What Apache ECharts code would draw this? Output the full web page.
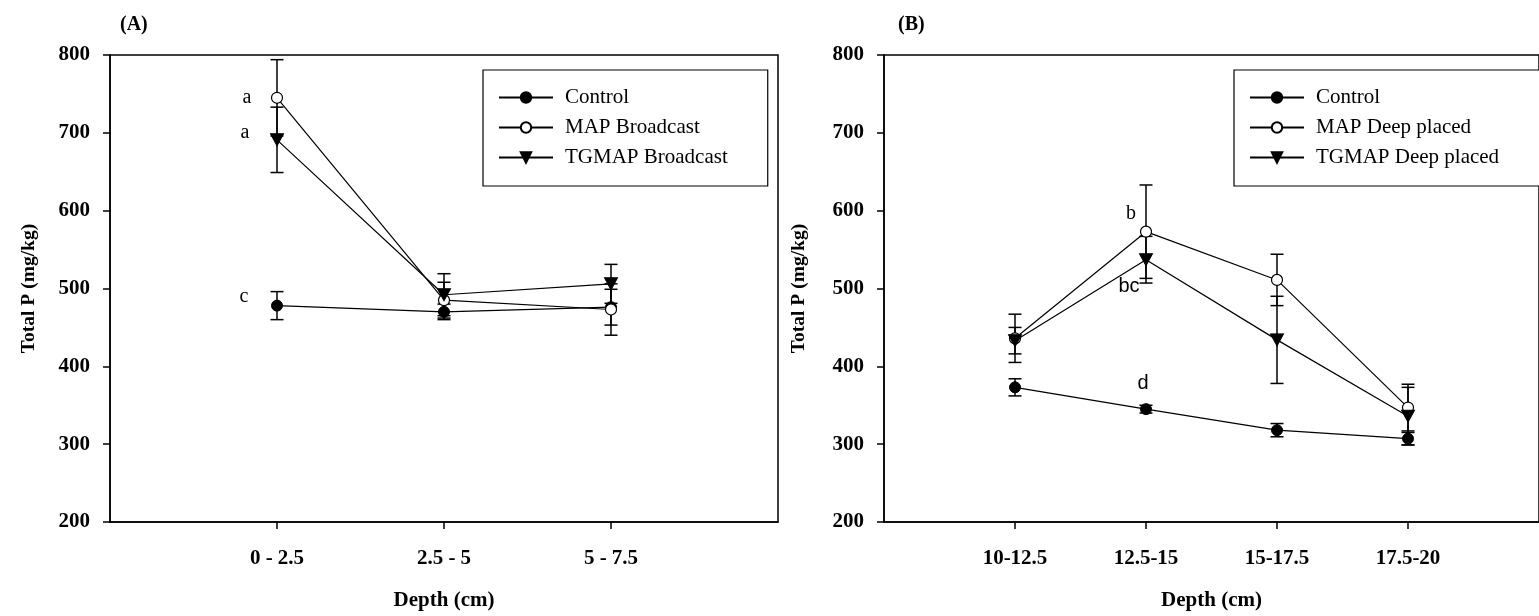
<!DOCTYPE html>
<html><head><meta charset="utf-8">
<script src="https://cdn.jsdelivr.net/npm/echarts@6/dist/echarts.min.js"></script>
<style>html,body{margin:0;padding:0;background:#fff}#c{width:1539px;height:616px}</style>
</head><body><div id="c"></div>
<script>
// ---- data ----
const catsA = ['0 - 2.5', '2.5 - 5', '5 - 7.5'];
const catsB = ['10-12.5', '12.5-15', '15-17.5', '17.5-20'];

const controlA = [478, 470, 476];
const controlAErr = [18, 10, 23];
const mapA = [745, 485, 473];
const mapAErr = [49, 23, 33];
const tgA = [691, 492, 506];
const tgAErr = [42, 27, 25];

const controlB = [373, 345, 318, 307];
const controlBErr = [11, 5, 8.5, 8];
const mapB = [436, 573, 511, 347];
const mapBErr = [31, 60, 33, 30];
const tgB = [433, 537, 434, 336];
const tgBErr = [17, 30, 56, 37];

const controlLettersA = ['c', '', ''];
const mapLettersA = ['a', '', ''];
const tgLettersA = ['a', '', ''];
const controlLettersB = ['', 'd', '', ''];
const mapLettersB = ['', 'b', '', ''];
const tgLettersB = ['', 'bc', '', ''];

const namesA = ['Control', 'MAP Broadcast', 'TGMAP Broadcast'];
const namesB = ['Control', 'MAP Deep placed', 'TGMAP Deep placed'];

// ---- styles ----
const SERIF = "'Liberation Serif','Times New Roman',serif";
const SANS = "'Liberation Sans',Arial,sans-serif";
const FS = 21;
const markers = {
  control: {symbol: 'circle', symbolSize: 11, symbolRotate: 0, itemStyle: {color: '#000', borderColor: '#000', borderWidth: 1}},
  map: {symbol: 'circle', symbolSize: 11, symbolRotate: 0, itemStyle: {color: '#fff', borderColor: '#000', borderWidth: 1.2}},
  tg: {symbol: 'triangle', symbolSize: [13, 12], symbolRotate: 180, itemStyle: {color: '#000', borderColor: '#000', borderWidth: 1}}
};

function mkLine(name, axis, vals, kind, letters, offsets, font) {
  const m = markers[kind];
  return {
    name: name, type: 'line', xAxisIndex: axis, yAxisIndex: axis, z: 3,
    symbol: m.symbol, symbolSize: m.symbolSize, symbolRotate: m.symbolRotate,
    itemStyle: m.itemStyle, lineStyle: {color: '#000', width: 1.2},
    emphasis: {disabled: true}, silent: true,
    label: {show: false},
    data: vals.map((v, i) => {
      const d = {value: [i + 1, v]};
      if (letters[i]) {
        d.label = {show: true, formatter: letters[i], position: 'inside', offset: offsets[i],
          color: '#000', textBorderWidth: 0, fontFamily: font, fontSize: 20, fontWeight: 'normal'};
      }
      return d;
    })
  };
}

function mkErr(axis, vals, errs) {
  return {
    type: 'custom', xAxisIndex: axis, yAxisIndex: axis, z: 2, silent: true,
    data: vals.map((v, i) => [i + 1, v, errs[i]]),
    encode: {x: 0, y: 1},
    renderItem: function (params, api) {
      const x = api.value(0), y = api.value(1), e = api.value(2);
      const t = api.coord([x, y + e]), b = api.coord([x, y - e]);
      const w = 6.5, st = {stroke: '#000', lineWidth: 1.5};
      return {type: 'group', children: [
        {type: 'line', shape: {x1: t[0], y1: t[1], x2: b[0], y2: b[1]}, style: st},
        {type: 'line', shape: {x1: t[0] - w, y1: t[1], x2: t[0] + w, y2: t[1]}, style: st},
        {type: 'line', shape: {x1: b[0] - w, y1: b[1], x2: b[0] + w, y2: b[1]}, style: st}
      ]};
    }
  };
}

const axisLineStyle = {color: '#000', width: 1.5};
function yAx(idx, gap) {
  return {
    gridIndex: idx, type: 'value', min: 200, max: 800, interval: 100,
    axisLine: {show: true, lineStyle: axisLineStyle},
    axisTick: {show: true, length: 7, lineStyle: axisLineStyle},
    axisLabel: {fontFamily: SERIF, fontWeight: 'bold', fontSize: FS, color: '#000', margin: 20},
    splitLine: {show: false},
    name: 'Total P (mg/kg)', nameLocation: 'middle', nameGap: gap, nameRotate: 90,
    nameTextStyle: {fontFamily: SERIF, fontWeight: 'bold', fontSize: 19.5, color: '#000'}
  };
}
function xAx(idx, cats) {
  const vals = cats.map((c, i) => i + 1);
  return {
    gridIndex: idx, type: 'value', min: 0, max: cats.length + 1, interval: 1,
    axisLine: {show: true, onZero: false, lineStyle: axisLineStyle},
    axisTick: {show: true, customValues: vals, length: 7, lineStyle: axisLineStyle},
    axisLabel: {customValues: vals, formatter: v => cats[Math.round(v) - 1] || '',
      fontFamily: SERIF, fontWeight: 'bold', fontSize: FS, color: '#000', margin: 26},
    splitLine: {show: false},
    name: 'Depth (cm)', nameLocation: 'middle', nameGap: 68,
    nameTextStyle: {fontFamily: SERIF, fontWeight: 'bold', fontSize: FS, color: '#000'}
  };
}
function legend(names, left, padRight) {
  return {
    data: names, orient: 'vertical', left: left, top: 70,
    padding: [17, padRight, 18, 15], itemWidth: 54, itemHeight: 13, itemGap: 9,
    borderColor: '#000', borderWidth: 1.2, backgroundColor: '#fff', selectedMode: false,
    textStyle: {fontFamily: SERIF, fontSize: FS, color: '#000', lineHeight: 21, padding: [0, 0, 0, 7]}
  };
}

const option = {
  animation: false,
  backgroundColor: '#fff',
  title: [
    {text: '(A)', left: 115, top: 10, textStyle: {fontFamily: SERIF, fontWeight: 'bold', fontSize: 20, color: '#000'}},
    {text: '(B)', left: 893, top: 10, textStyle: {fontFamily: SERIF, fontWeight: 'bold', fontSize: 20, color: '#000'}}
  ],
  grid: [
    {left: 110, top: 55, width: 668, height: 469, show: true, borderColor: '#000', borderWidth: 1.5, backgroundColor: 'transparent'},
    {left: 884, top: 55, width: 670, height: 469, show: true, borderColor: '#000', borderWidth: 1.5, backgroundColor: 'transparent'}
  ],
  xAxis: [xAx(0, catsA), xAx(1, catsB)],
  yAxis: [yAx(0, 71), yAx(1, 75)],
  legend: [legend(namesA, 483, 40), legend(namesB, 1234, 120)],
  series: [
    mkErr(0, controlA, controlAErr), mkErr(0, mapA, mapAErr), mkErr(0, tgA, tgAErr),
    mkErr(1, controlB, controlBErr), mkErr(1, mapB, mapBErr), mkErr(1, tgB, tgBErr),
    mkLine(namesA[0], 0, controlA, 'control', controlLettersA, [[-33, -9], [0, 0], [0, 0]], SERIF),
    mkLine(namesA[1], 0, mapA, 'map', mapLettersA, [[-30, 0], [0, 0], [0, 0]], SERIF),
    mkLine(namesA[2], 0, tgA, 'tg', tgLettersA, [[-32, -7], [0, 0], [0, 0]], SERIF),
    mkLine(namesB[0], 1, controlB, 'control', controlLettersB, [[0, 0], [-3, -26], [0, 0], [0, 0]], SANS),
    mkLine(namesB[1], 1, mapB, 'map', mapLettersB, [[0, 0], [-15, -18], [0, 0], [0, 0]], SERIF),
    mkLine(namesB[2], 1, tgB, 'tg', tgLettersB, [[0, 0], [-17, 27], [0, 0], [0, 0]], SANS)
  ]
};
const chart = echarts.init(document.getElementById('c'), null, {renderer: 'canvas'});
chart.setOption(option);
</script>
</body></html>
